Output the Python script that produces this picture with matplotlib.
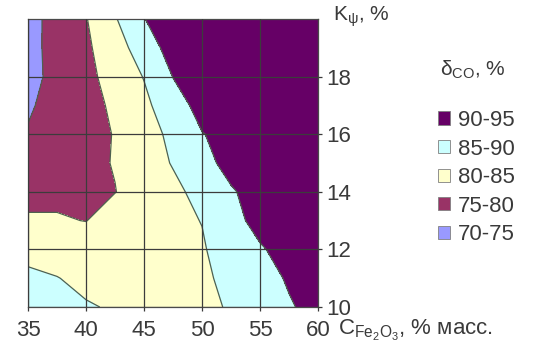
import matplotlib
matplotlib.use("Agg")
import matplotlib.pyplot as plt
import numpy as np
from matplotlib.patches import Patch

plt.rcParams['font.family'] = ['Liberation Sans', 'DejaVu Sans']
plt.rcParams['mathtext.fontset'] = 'custom'
plt.rcParams['mathtext.rm'] = 'Liberation Sans'
plt.rcParams['mathtext.it'] = 'Liberation Sans'

# Data: CO conversion degree (%) over Fe2O3 content (x) and K_psi (y)
c_fe2o3 = [35, 37.5, 40, 42.5, 45, 47.5, 50, 52.5, 55, 57.5, 60]
k_psi = [10, 11, 12, 13, 14, 15, 16, 17, 18, 19, 20]
row_10 = [86.5, 85.9, 85.27, 84.7, 84.5, 84.5, 84.5, 85.2, 87.4, 89.6, 91.4]
row_11 = [85.6, 85.1, 84.2, 83.8, 84.0, 84.3, 84.6, 85.6, 88.3, 90.45, 91.7]
row_12 = [84.1, 83.5, 83.0, 83.3, 83.8, 84.3, 84.6, 87.1, 89.7, 91.1, 92.2]
row_13 = [80.6, 80.4, 79.9, 82.0, 83.0, 84.05, 85.1, 89.0, 91.0, 91.9, 92.7]
row_14 = [78.5, 79.0, 79.5, 79.9, 81.9, 83.9, 86.5, 89.7, 91.2, 92.2, 93.0]
row_15 = [77.0, 78.0, 79.05, 80.2, 82.7, 85.3, 89.0, 91.0, 91.9, 92.7, 93.4]
row_16 = [75.3, 76.9, 78.5, 80.2, 83.0, 86.1, 89.85, 91.2, 92.2, 93.0, 93.6]
row_17 = [74.5, 76.5, 78.5, 80.75, 83.9, 88.0, 91.5, 92.2, 92.9, 93.5, 94.0]
row_18 = [73.7, 76.2, 78.8, 81.8, 85.2, 90.1, 91.6, 92.4, 93.1, 93.7, 94.2]
row_19 = [73.7, 76.4, 79.2, 82.9, 87.4, 92.0, 92.8, 93.4, 93.9, 94.3, 94.6]
row_20 = [73.5, 76.6, 79.75, 84.6, 89.9, 92.2, 92.9, 93.5, 94.0, 94.4, 94.7]

levels = [70, 75, 80, 85, 90, 95]
band_labels = ['70-75', '75-80', '80-85', '85-90', '90-95']
band_colors = ['#9999ff', '#993366', '#ffffcc', '#ccffff', '#660066']

Z = np.array([row_10, row_11, row_12, row_13, row_14, row_15, row_16,
              row_17, row_18, row_19, row_20])
X, Y = np.meshgrid(c_fe2o3, k_psi)

fig = plt.figure(figsize=(5.34, 3.51), dpi=100)
ax = fig.add_axes([28/534, 1-307/351, 290/534, 288/351])

ax.contourf(X, Y, Z, levels=levels, colors=band_colors)
ax.contour(X, Y, Z, levels=levels[1:-1], colors='#4f614f', linewidths=0.9)

ax.set_xlim(35, 60)
ax.set_ylim(10, 20)
ax.set_xticks([35, 40, 45, 50, 55, 60])
ax.set_yticks([10, 12, 14, 16, 18])
ax.yaxis.tick_right()
ax.grid(True, color='#3c3c3c', linewidth=0.9)
ax.set_axisbelow(False)
ax.tick_params(axis='both', labelsize=16, colors='#3a3a3a', length=3, width=0.9)
ax.tick_params(axis='x', pad=6)
ax.tick_params(axis='y', pad=3)
for s in ax.spines.values():
    s.set_color('#4a4a4a')
    s.set_linewidth(0.9)

fig.text(333/534, 1-17/351, r'K$_{\mathregular{ψ}}$, %', fontsize=15, color='#3a3a3a',
         ha='left', va='center')
fig.text(338/534, 1-330/351, r'C$_{\mathregular{Fe}_2\mathregular{O}_3}$, % масс.',
         fontsize=16, color='#3a3a3a', ha='left', va='center')

# legend title placed on its own, entries lower down
fig.text(440/534, 1-70/351, r'δ$_{\mathregular{CO}}$, %', fontsize=15,
         color='#3a3a3a', ha='left', va='center')
handles = [Patch(facecolor=c, edgecolor='#808080', linewidth=0.6) for c in band_colors[::-1]]
leg = fig.legend(handles, band_labels[::-1], loc='upper left',
                 bbox_to_anchor=(438/534, 1-110/351), frameon=False,
                 fontsize=16, handlelength=0.55, handleheight=0.55,
                 handletextpad=0.35, labelspacing=0.34,
                 borderpad=0, borderaxespad=0)
for t in leg.get_texts():
    t.set_color('#3a3a3a')

plt.savefig('out.png', dpi=100)
